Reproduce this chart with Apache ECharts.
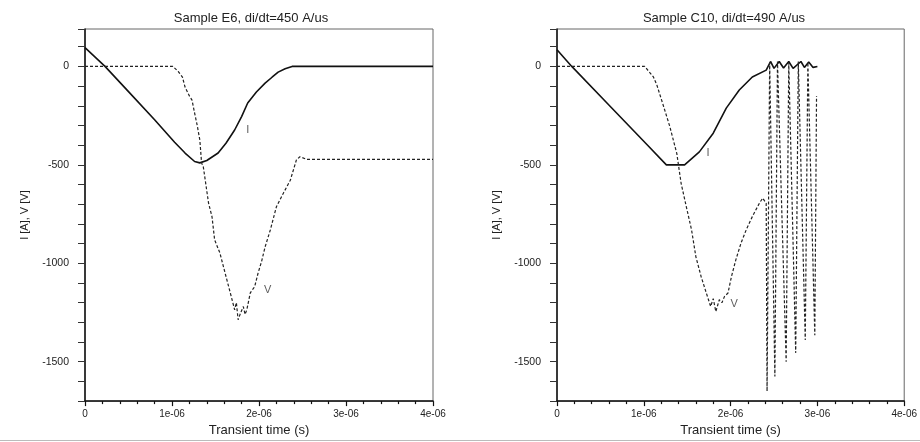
<!DOCTYPE html>
<html>
<head>
<meta charset="utf-8">
<script src="https://cdn.jsdelivr.net/npm/echarts@6/dist/echarts.min.js"></script>
<style>
html,body{margin:0;padding:0;background:#fff;}
#chart{width:920px;height:442px;}
</style>
</head>
<body>
<div id="chart"></div>
<script>
// time values in microseconds (1 = 1e-06 s)
const titles = ['Sample E6, di/dt=450 A/us', 'Sample C10, di/dt=490 A/us'];
const xTickLabels = ['0', '1e-06', '2e-06', '3e-06', '4e-06'];
const xName = 'Transient time (s)';
const yName = 'I [A], V [V]';

const e6_I_t = [0, 0.23, 0.5, 0.8, 1.03, 1.15, 1.26, 1.32, 1.4, 1.53, 1.62, 1.72, 1.8, 1.87, 1.97, 2.07, 2.15, 2.22, 2.3, 2.38, 4.0];
const e6_I_v = [95, 0, -128, -271, -385, -440, -483, -490, -478, -440, -390, -323, -255, -186, -130, -85, -55, -29, -12, 0, 0];

const e6_V_t = [0, 1.01, 1.07, 1.12, 1.15, 1.2, 1.23, 1.26, 1.29, 1.32, 1.34, 1.36, 1.42, 1.46, 1.49, 1.55, 1.61, 1.67, 1.72, 1.74, 1.76, 1.79, 1.82, 1.84, 1.86, 1.90, 1.95, 1.99, 2.03, 2.07, 2.13, 2.20, 2.28, 2.36, 2.43, 2.47, 2.55, 4.0];
const e6_V_v = [0, 0, -25, -54, -105, -150, -171, -237, -300, -374, -490, -510, -694, -764, -881, -947, -1049, -1150, -1236, -1200, -1287, -1250, -1220, -1260, -1236, -1150, -1119, -1049, -990, -917, -831, -713, -644, -578, -475, -459, -472, -472];

const c10_I_t = [0, 0.17, 0.57, 1.03, 1.26, 1.47, 1.64, 1.80, 1.95, 2.10, 2.25, 2.41, 2.46, 2.50, 2.56, 2.61, 2.67, 2.72, 2.81, 2.85, 2.90, 2.95, 3.0];
const c10_I_v = [85, 0, -183, -394, -500, -500, -434, -339, -212, -120, -54, -19, 25, -10, 25, -8, 25, -10, 25, -5, 22, -5, 0];

const c10_V_t = [0, 1.01, 1.11, 1.15, 1.23, 1.30, 1.38, 1.43, 1.49, 1.55, 1.60, 1.66, 1.72, 1.77, 1.80, 1.83, 1.87, 1.90, 1.93, 1.97, 2.01, 2.06, 2.12, 2.18, 2.25, 2.33, 2.37, 2.41, 2.42, 2.45, 2.51, 2.54, 2.64, 2.67, 2.75, 2.78, 2.86, 2.89, 2.97, 2.99];
const c10_V_v = [0, 0, -53, -94, -206, -306, -442, -594, -713, -830, -967, -1067, -1151, -1219, -1180, -1245, -1185, -1200, -1168, -1151, -1067, -983, -897, -830, -763, -696, -669, -696, -1650, 20, -1575, 25, -1500, 20, -1455, 25, -1390, 20, -1365, -150];

// curve labels: [t, value, text]
const e6_labels = [[1.87, -323, 'I'], [2.10, -1134, 'V']];
const c10_labels = [[1.74, -439, 'I'], [2.04, -1208, 'V']];

const zip = (a, b) => a.map((x, i) => [x, b[i]]);
const FONT = 'Liberation Sans';
const TXT = '#222';

function xAxis(gi) {
  return {
    type: 'value', gridIndex: gi, min: 0, max: 4, interval: 1,
    name: xName, nameLocation: 'middle', nameGap: 22,
    nameTextStyle: {fontFamily: FONT, fontSize: 13, color: TXT},
    axisLine: {show: true, onZero: false, lineStyle: {color: '#111', width: 1.5}},
    axisTick: {show: true, length: 5, lineStyle: {color: '#111', width: 1.2}},
    minorTick: {show: true, splitNumber: 5, length: 3, lineStyle: {color: '#111', width: 1.2}},
    splitLine: {show: false},
    axisLabel: {fontFamily: FONT, fontSize: 10, color: TXT, margin: 8,
      formatter: v => { const k = Math.round(v); return Math.abs(v - k) < 1e-6 ? xTickLabels[k] : ''; }}
  };
}
function yAxis(gi) {
  return {
    type: 'value', gridIndex: gi, min: -1700, max: 190, interval: 100,
    name: yName, nameLocation: 'middle', nameGap: 55, nameRotate: 90,
    nameTextStyle: {fontFamily: FONT, fontSize: 11, color: TXT},
    axisLine: {show: true, onZero: false, lineStyle: {color: '#111', width: 1.5}},
    axisTick: {show: true, length: 7, lineStyle: {color: '#333', width: 1}},
    splitLine: {show: false},
    axisLabel: {fontFamily: FONT, fontSize: 10.5, color: TXT, margin: 16,
      formatter: v => (Math.round(v) % 500 === 0 && v <= 0 ? String(Math.round(v)) : '')}
  };
}
function lineSeries(gi, data, dashed) {
  return {
    type: 'line', xAxisIndex: gi, yAxisIndex: gi, data: data, showSymbol: false, symbol: 'none',
    animation: false,
    lineStyle: dashed ? {color: '#222', width: 1.2, type: [3, 2]} : {color: '#111', width: 1.6}
  };
}
function labelSeries(gi, labels) {
  return {
    type: 'scatter', xAxisIndex: gi, yAxisIndex: gi, animation: false, silent: true,
    data: labels.map(l => ({value: [l[0], l[1]], name: l[2]})),
    symbolSize: 1, itemStyle: {color: 'rgba(0,0,0,0)'},
    label: {show: true, position: 'inside', formatter: p => p.name, fontFamily: FONT, fontSize: 11, color: '#333'}
  };
}

const chart = echarts.init(document.getElementById('chart'), null, {renderer: 'canvas'});
chart.setOption({
  backgroundColor: '#fff',
  animation: false,
  title: [
    {text: titles[0], left: 246, top: 7, textAlign: 'center', textStyle: {fontFamily: FONT, fontSize: 13, fontWeight: 'normal', color: TXT}},
    {text: titles[1], left: 719, top: 7, textAlign: 'center', textStyle: {fontFamily: FONT, fontSize: 13, fontWeight: 'normal', color: TXT}}
  ],
  grid: [
    {left: 85, right: 487, top: 29, bottom: 39, show: true, borderColor: '#666', borderWidth: 1},
    {left: 557, right: 14, top: 29, bottom: 39, show: true, borderColor: '#666', borderWidth: 1}
  ],
  xAxis: [xAxis(0), xAxis(1)],
  yAxis: [yAxis(0), yAxis(1)],
  series: [
    lineSeries(0, zip(e6_I_t, e6_I_v), false),
    lineSeries(0, zip(e6_V_t, e6_V_v), true),
    lineSeries(1, zip(c10_I_t, c10_I_v), false),
    lineSeries(1, zip(c10_V_t, c10_V_v), true),
    labelSeries(0, e6_labels),
    labelSeries(1, c10_labels)
  ],
  graphic: [
    {type: 'line', shape: {x1: 0, y1: 440.5, x2: 920, y2: 440.5}, style: {stroke: '#bbb', lineWidth: 1}, silent: true}
  ]
});
</script>
</body>
</html>
